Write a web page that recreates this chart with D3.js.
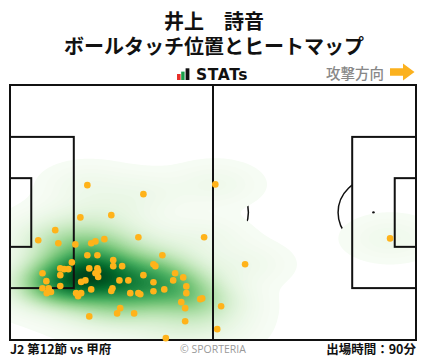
<!DOCTYPE html>
<html><head><meta charset="utf-8">
<script src="https://cdn.jsdelivr.net/npm/d3@7"></script>
<style>body{margin:0;background:#fff;overflow:hidden}</style>
</head><body>
<svg id="c" width="428" height="359"></svg>
<script>
// ---- data (pitch coordinates in metres, 105 x 68, attacking to the right) ----
const touchX = [20.0,34.5,53.1,18.2,26.2,11.7,7.3,12.5,16.9,21.0,22.1,24.4,33.2,50.2,39.4,20.0,22.6,16.0,26.7,26.7,
  29.0,37.1,37.6,13.0,14.0,15.1,20.5,22.6,22.8,22.1,22.8,8.4,13.0,42.7,34.5,44.8,9.4,18.4,19.5,28.3,
  30.6,37.1,42.2,13.0,8.4,10.0,10.6,9.5,17.1,17.6,18.4,21.0,26.5,26.2,31.1,33.2,33.7,37.1,39.9,45.6,
  45.6,44.3,49.2,49.7,45.3,28.5,27.7,32.1,20.5,45.3,53.6,40.3,54.6,60.8,98.3];
const touchY = [26.7,29.1,26.5,35.3,34.7,38.7,41.4,42.2,42.5,42.2,41.7,41.1,40.6,40.6,45.4,45.4,45.4,47.3,46.7,48.3,
  48.3,47.8,48.3,48.9,49.1,49.1,48.9,48.9,49.6,50.2,51.2,50.2,50.7,50.2,50.7,51.3,52.3,52.5,52.1,52.1,
  52.1,52.6,52.1,53.6,54.2,54.2,55.2,55.5,55.5,56.3,55.5,54.5,54.2,54.9,55.5,55.5,55.8,55.0,54.5,53.7,
  55.5,57.9,57.1,56.9,59.5,59.5,60.9,60.9,61.7,63.0,65.1,67.5,59.0,47.8,40.9];
const titleLines = ["井上　詩音", "ボールタッチ位置とヒートマップ"];
const brandText = "STATs";
const directionText = "攻撃方向";
const matchText = "J2 第12節 vs 甲府";
const creditText = "© SPORTERIA";
const minutesText = "出場時間：90分";

const svg = d3.select("#c");
const L = 10, R = 416, T = 85, B = 340;
const x = d3.scaleLinear().domain([0, 105]).range([L, R]);
const y = d3.scaleLinear().domain([0, 68]).range([T, B]);
const FONT = "'Noto Sans CJK JP','Noto Sans',sans-serif";

svg.append("rect").attr("width", 428).attr("height", 359).attr("fill", "#fff");

// ---- titles ----
svg.selectAll("text.title").data(titleLines).join("text")
  .attr("x", 214).attr("y", (d, i) => 29 + i * 24.5)
  .attr("text-anchor", "middle").attr("font-family", FONT)
  .attr("font-weight", 700).attr("font-size", 20).attr("fill", "#111").text(d => d);

// brand logo
const logo = svg.append("g");
[[177, 74, 3.6, "#e8302a"], [181.2, 71.6, 3.4, "#1aa04a"], [185.6, 68.3, 3.8, "#111"]].forEach(b => {
  logo.append("rect").attr("x", b[0]).attr("y", b[1]).attr("width", b[2]).attr("height", 80 - b[1]).attr("fill", b[3]);
});
logo.append("text").attr("x", 196).attr("y", 80).attr("font-family", "'DejaVu Sans',sans-serif")
  .attr("font-weight", 700).attr("font-size", 15.5).attr("letter-spacing", 0.6).attr("fill", "#111").text(brandText);

svg.append("text").attr("x", 384).attr("y", 78.5).attr("text-anchor", "end").attr("font-family", FONT)
  .attr("font-size", 14.5).attr("font-weight", 500).attr("fill", "#888").text(directionText);
svg.append("path").attr("fill", "#FBB11E")
  .attr("d", "M390,68.3 L403,68.3 L403,63.5 L414.5,72 L403,80.5 L403,75.7 L390,75.7 Z");

// ---- pitch: curved markings (under heatmap) ----
const under = svg.append("g").attr("fill", "none").attr("stroke", "#111").attr("stroke-width", 1.5);
const rx = x(9.15) - x(0), ry = y(9.15) - y(0);
svg.append("clipPath").attr("id", "leftArc").append("rect")
  .attr("x", x(16.5)).attr("y", T).attr("width", 100).attr("height", B - T);
svg.append("clipPath").attr("id", "rightArc").append("rect")
  .attr("x", x(88.5) - 100).attr("y", T).attr("width", 100).attr("height", B - T);
under.append("ellipse").attr("cx", x(52.5)).attr("cy", y(34)).attr("rx", rx).attr("ry", ry);
under.append("ellipse").attr("cx", x(11)).attr("cy", y(34)).attr("rx", rx).attr("ry", ry).attr("clip-path", "url(#leftArc)");
under.append("ellipse").attr("cx", x(94)).attr("cy", y(34)).attr("rx", rx).attr("ry", ry).attr("clip-path", "url(#rightArc)");
[11, 52.5, 94].forEach(s => svg.append("circle").attr("cx", x(s)).attr("cy", y(34)).attr("r", 1.3).attr("fill", "#111"));

// ---- heatmap: gaussian KDE, opaque filled levels ----
const n = touchX.length;
const bwX = 7.1, bwY = 3.7;      // kernel bandwidth (metres)
const floorLevel = 0.17;          // lowest drawn level, relative to one kernel's peak
function dens(px, py) {
  let s = 0;
  for (let i = 0; i < n; i++) {
    const dx = (px - touchX[i]) / bwX, dy = (py - touchY[i]) / bwY;
    s += Math.exp(-0.5 * (dx * dx + dy * dy));
  }
  return s;
}
const step = 2;
const nx = Math.round((R - L) / step) + 1, ny = Math.round((B - T) / step) + 1;
const grid = new Float64Array(nx * ny);
for (let j = 0; j < ny; j++) for (let i = 0; i < nx; i++)
  grid[j * nx + i] = dens(x.invert(L + i * step), y.invert(T + j * step));
const lmin = floorLevel, lmax = d3.max(grid);
const NL = 90;
const levels = d3.range(NL).map(k => lmin + (lmax - lmin) * k / NL);
const contours = d3.contours().size([nx, ny]).thresholds(levels)(grid);
const path = d3.geoPath(d3.geoTransform({
  point(px, py) { this.stream.point(L + (px - 0.5) * step, T + (py - 0.5) * step); }
}));
svg.append("clipPath").attr("id", "pitchClip").append("rect")
  .attr("x", L).attr("y", T).attr("width", R - L).attr("height", B - T);
svg.append("g").attr("clip-path", "url(#pitchClip)")
  .selectAll("path").data(contours).join("path")
  .attr("d", path)
  .attr("fill", (d, k) => d3.interpolateGreens((k + 0.5) / NL));

// ---- pitch: straight lines (over heatmap) ----
const lines = svg.append("g").attr("fill", "none").attr("stroke", "#111").attr("stroke-width", 2);
lines.append("rect").attr("x", L).attr("y", T).attr("width", R - L).attr("height", B - T);
lines.append("line").attr("x1", x(52.5)).attr("x2", x(52.5)).attr("y1", T).attr("y2", B);
const boxes = [[0, 16.5, 13.84, 54.16], [0, 5.5, 24.84, 43.16], [88.5, 105, 13.84, 54.16], [99.5, 105, 24.84, 43.16]];
boxes.forEach(b => lines.append("rect").attr("x", x(b[0])).attr("y", y(b[2]))
  .attr("width", x(b[1]) - x(b[0])).attr("height", y(b[3]) - y(b[2])));

// ---- ball touches ----
svg.append("g").selectAll("circle").data(d3.range(n)).join("circle")
  .attr("cx", i => x(touchX[i])).attr("cy", i => y(touchY[i])).attr("r", 3.3)
  .attr("fill", "#FFB31A");

// ---- footer ----
svg.append("text").attr("x", 10).attr("y", 354).attr("font-family", FONT).attr("font-weight", 700)
  .attr("font-size", 12.5).attr("fill", "#111").text(matchText);
svg.append("text").attr("x", 213).attr("y", 352.5).attr("text-anchor", "middle").attr("font-family", "'Open Sans',sans-serif")
  .attr("font-size", 10.5).attr("fill", "#999").text(creditText);
svg.append("text").attr("x", 416).attr("y", 354).attr("text-anchor", "end").attr("font-family", FONT).attr("font-weight", 700)
  .attr("font-size", 12.5).attr("fill", "#111").text(minutesText);
</script>
</body></html>
